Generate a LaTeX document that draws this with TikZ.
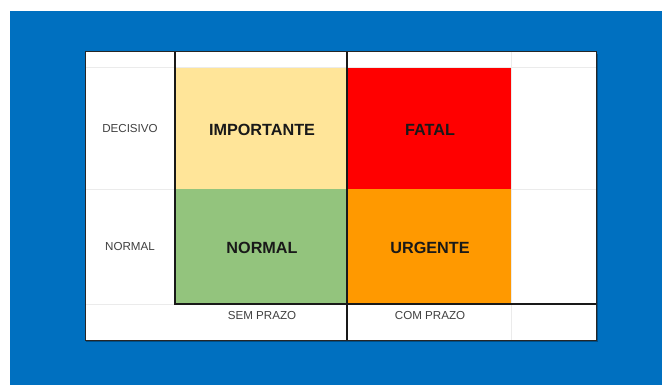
\documentclass[tikz,border=0pt]{standalone}
\usepackage{fontspec}
\setmainfont{Liberation Sans}
\begin{document}
\begin{tikzpicture}[x=1pt,y=-1pt,
  bigtxt/.style={font=\bfseries\fontsize{16.2}{19}\selectfont, text=black!90},
  smalltxt/.style={font=\fontsize{11.6}{13}\selectfont, text=black!75},
  grid/.style={draw=black!8, line width=0.8pt},
  thick line/.style={draw=black!90, line width=2.2pt}]
\definecolor{bluebg}{HTML}{0070C0}
\definecolor{cyellow}{HTML}{FFE599}
\definecolor{cgreen}{HTML}{93C47D}
\definecolor{cred}{HTML}{FF0000}
\definecolor{corange}{HTML}{FF9900}
\useasboundingbox (0,0) rectangle (662,385);
\fill[white] (0,0) rectangle (662,385);
\fill[bluebg] (10,11) rectangle (662,385);
% shadow
\fill[black!60!bluebg, opacity=0.5] (86,54) rectangle (598,342);
% table
\fill[white] (85,52) rectangle (596,340);
% cells
\fill[cyellow] (175,67) rectangle (347,189);
\fill[cred] (347,67) rectangle (511,189);
\fill[cgreen] (175,189) rectangle (347,304);
\fill[corange] (347,189) rectangle (511,304);
% light grid
\draw[grid] (85,67) -- (596,67);
\draw[grid] (85,189) -- (175,189);
\draw[grid] (511,189) -- (596,189);
\draw[grid] (85,304) -- (175,304);
\draw[grid] (511,52) -- (511,340);
% thick lines
\draw[thick line] (175,52) -- (175,304) -- (596,304);
\draw[thick line] (347,52) -- (347,340);
% border
\draw[black!85, line width=1pt] (85,52) rectangle (596,340);
% texts
\node[smalltxt] (dec) at (130,129) {DECISIVO};
\node[smalltxt] (nor) at (130,247) {NORMAL};
\node[bigtxt] (imp) at (262,129.5) {IMPORTANTE};
\node[bigtxt] (fat) at (430,129.5) {FATAL};
\node[bigtxt] (nrm) at (262,247.5) {NORMAL};
\node[bigtxt] (urg) at (430,247.5) {URGENTE};
\node[smalltxt] (sem) at (262,315.5) {SEM PRAZO};
\node[smalltxt] (com) at (430,315.5) {COM PRAZO};
\end{tikzpicture}
\end{document}
